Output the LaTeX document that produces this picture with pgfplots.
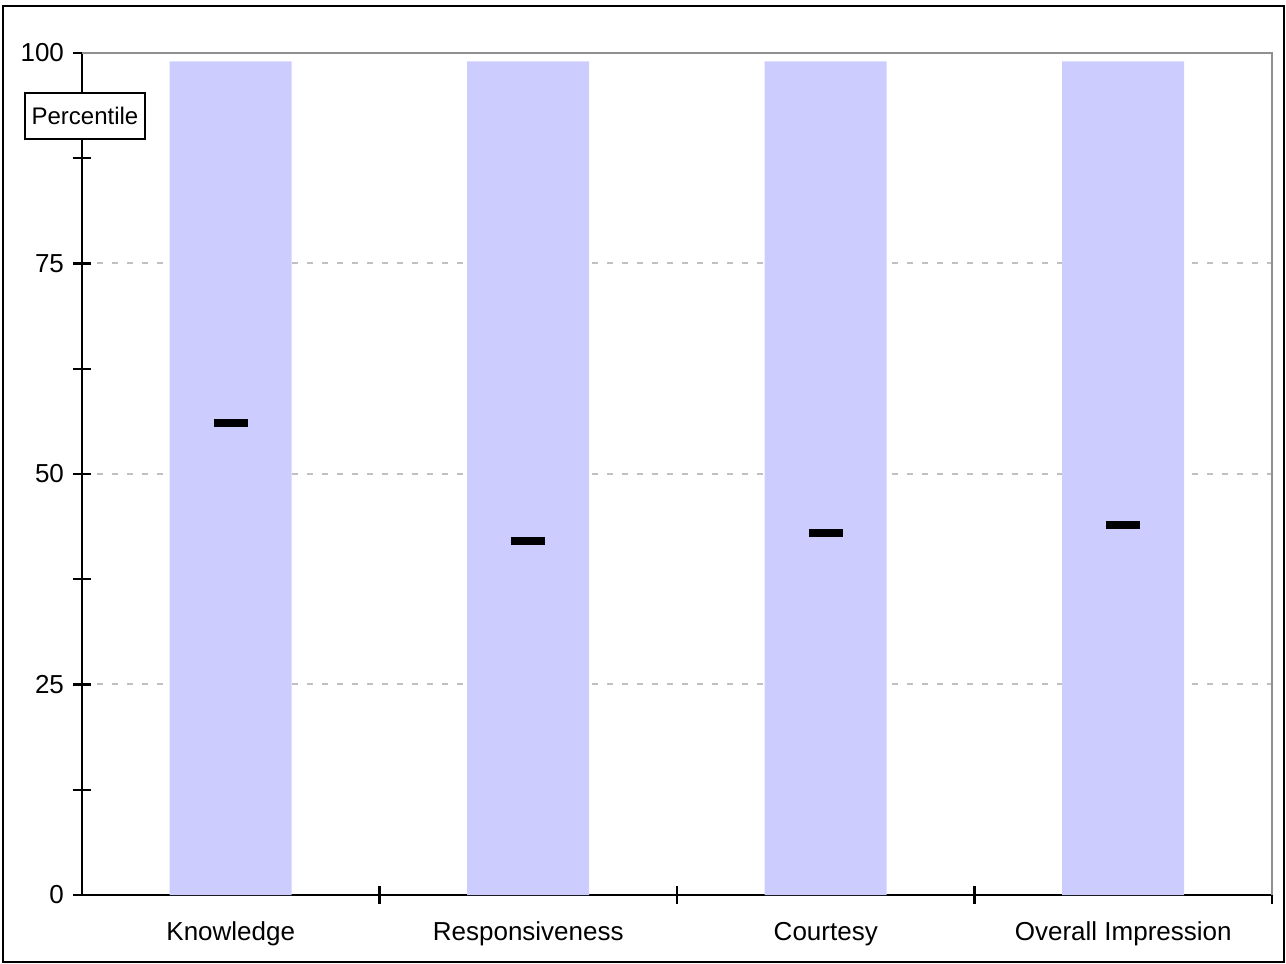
\documentclass[border=0pt]{standalone}
\usepackage{pgfplots}
\pgfplotsset{compat=1.18}
\usepackage{fontspec}
\setmainfont{Liberation Sans}
\definecolor{barblue}{HTML}{CCCCFF}
\definecolor{gridgray}{HTML}{C0C0C0}
\definecolor{topgray}{HTML}{909090}
\begin{document}
\begin{tikzpicture}
\useasboundingbox (-41pt,-34.5pt) rectangle (602pt,447.5pt);
\begin{axis}[
  at={(0pt,0pt)}, anchor=south west,
  scale only axis, width=595pt, height=421pt,
  xmin=-0.5, xmax=3.5, ymin=0, ymax=100,
  axis x line*=bottom, axis y line*=left,
  axis line style={line width=1.2pt, black},
  xtick={0.5,1.5,2.5,3.5}, xticklabels={},
  extra x ticks={0,1,2,3},
  extra x tick labels={Knowledge,Responsiveness,Courtesy,Overall Impression},
  extra x tick style={major tick length=0pt},
  ytick={0,25,50,75,100},
  minor ytick={12.5,37.5,62.5,87.5},
  tick align=center,
  major tick length=9pt, minor tick length=9pt,
  tick style={black, line width=1.1pt},
  every minor tick/.append style={black, line width=1.1pt},
  ymajorgrids,
  grid style={gridgray, line width=1pt, dash pattern=on 3pt off 4.5pt},
  ticklabel style={font=\fontsize{13}{15}\selectfont},
  /pgf/number format/assume math mode=true,
  yticklabel style={xshift=-1pt},
  xticklabel style={yshift=-10pt},
  clip=false,
]
\addplot[ybar, bar width=61pt, bar shift=0pt, fill=barblue, draw=none]
  coordinates {(0,99) (1,99) (2,99) (3,99)};
\addplot[only marks, mark=-, mark size=8.5pt, mark options={line width=4pt, black}]
  coordinates {(0,56) (1,42) (2,43) (3,44)};
\draw[topgray, line width=1pt] (rel axis cs:0,1) -- (rel axis cs:1,1) -- (rel axis cs:1,0);
\end{axis}
\node[draw=black, line width=1pt, fill=white, minimum width=60pt, minimum height=23pt, inner sep=0pt,
  font=\fontsize{12}{14}\selectfont] at (1.5pt,389.5pt) {Percentile};
\draw[line width=1pt] (-39.5pt,-33.5pt) rectangle (601pt,444.5pt);
\end{tikzpicture}
\end{document}
